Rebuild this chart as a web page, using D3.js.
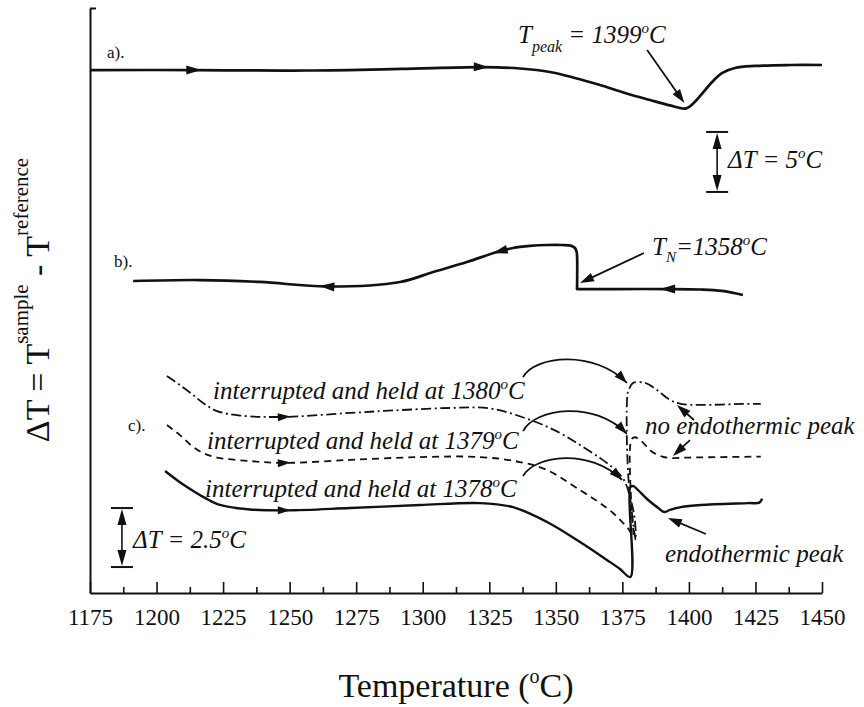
<!DOCTYPE html>
<html>
<head>
<meta charset="utf-8">
<script src="https://cdn.jsdelivr.net/npm/d3@7"></script>
<style>
  body { margin: 0; background: #fff; }
  svg { display: block; }
</style>
</head>
<body>
<svg id="chart" width="864" height="707"></svg>
<script>
// ---- temperature axis ----
const tickValues = [1175, 1200, 1225, 1250, 1275, 1300, 1325, 1350, 1375, 1400, 1425, 1450];
const tickLabels = ["1175", "1200", "1225", "1250", "1275", "1300", "1325", "1350", "1375", "1400", "1425", "1450"];
const minorTicks = [1187.5, 1212.5, 1237.5, 1262.5, 1287.5, 1312.5, 1337.5, 1362.5, 1387.5, 1412.5, 1437.5];

// ---- trace a): heating, stacked ΔT (°C) ----
const tempA = [1175, 1214.4, 1256.5, 1291.5, 1322.3, 1336.5, 1347.8, 1357.2, 1366.6, 1376, 1385.4, 1392.9, 1399, 1401.8, 1405.2, 1408.7, 1412.4, 1417.3, 1424.8, 1438, 1450];
const dtA   = [43.58, 43.58, 43.54, 43.67, 43.83, 43.71, 43.42, 42.92, 42.33, 41.67, 41.08, 40.63, 40.38, 40.83, 41.67, 42.58, 43.33, 43.75, 43.92, 44.0, 44.0];
const arrowsA = [1214, 1322];

// ---- trace b): cooling with nucleation at T_N ----
const tempB = [1191.2, 1216.3, 1238.9, 1264, 1291.5, 1303.9, 1316.6, 1327.9, 1333.9, 1340.3, 1346.7, 1352.5, 1355.6, 1357.2, 1357.8, 1358, 1358, 1358, 1359.2, 1374.1, 1392.1, 1404.2, 1412.4, 1420.3];
const dtB   = [26.0, 26.08, 25.92, 25.54, 25.92, 26.75, 27.58, 28.42, 28.75, 28.92, 29.0, 29.0, 28.95, 28.75, 28.45, 28.0, 25.55, 25.33, 25.33, 25.33, 25.33, 25.29, 25.17, 24.83];
const arrowsB = [1264, 1329, 1392];

// ---- traces c): interrupted heating runs ----
const tempC80 = [1203.9, 1208.8, 1213.3, 1217.5, 1222.7, 1231.4, 1247.5, 1272.7, 1291.5, 1310.2, 1325.3, 1341.4, 1351.6, 1359.1, 1366.6, 1371.5, 1375.6, 1378.2, 1379.7, 1380.0, 1377.2, 1376.9, 1377.4, 1379.0, 1383.5, 1388.0, 1392.9, 1397.0, 1405, 1420, 1427];
const dtC80   = [9.19, 8.81, 8.43, 8.05, 7.71, 7.52, 7.46, 7.63, 7.75, 7.84, 7.82, 7.29, 6.78, 6.27, 5.72, 5.30, 4.79, 3.94, 3.09, 2.25, 5.0, 8.4, 8.6, 8.9, 8.9, 8.6, 8.18, 8.01, 7.97, 8.01, 8.01];

const tempC79 = [1203.9, 1208.8, 1213.3, 1217.5, 1222.7, 1235.1, 1247.5, 1272.7, 1299, 1321.5, 1336.5, 1346.7, 1359.1, 1366.6, 1371.5, 1375.2, 1377.4, 1379, 1378.4, 1378.4, 1379.6, 1382.0, 1386.0, 1390.0, 1393.5, 1400, 1427];
const dtC79   = [7.12, 6.69, 6.23, 5.93, 5.74, 5.59, 5.51, 5.64, 5.76, 5.76, 5.55, 5.21, 4.36, 3.81, 3.39, 2.97, 2.7, 2.4, 3.6, 6.5, 6.6, 6.45, 6.0, 5.78, 5.72, 5.74, 5.78];

const tempC78 = [1203.2, 1208.1, 1212.6, 1218.2, 1223.8, 1235.1, 1249, 1272.7, 1299, 1321.5, 1333.9, 1346.7, 1359.1, 1369.2, 1374.1, 1378, 1378, 1379.1, 1380.9, 1384.7, 1388.5, 1390.7, 1392.9, 1397.0, 1404.5, 1422.3, 1426.5, 1427.5];
const dtC78   = [5.17, 4.75, 4.41, 4.03, 3.73, 3.54, 3.50, 3.60, 3.73, 3.81, 3.64, 3.01, 2.16, 1.40, 1.02, 0.68, 4.49, 4.53, 4.36, 3.94, 3.60, 3.43, 3.52, 3.64, 3.73, 3.81, 3.83, 4.0];
const arrowsC = [1248];

// ---- ΔT scale bars (temperature, from, to) ----
const barA = [1410.6, 33.42, 38.42];   // 5 °C
const barC = [1187.0, 1.1, 3.6];       // 2.5 °C

// ---- annotation pointers ----
const peakArrow = [[1384.3, 45.25], [1398.3, 40.83]];
const nucArrow  = [[1383.1, 28.33], [1359.1, 25.83]];
const noPeakArrows = [[[1401.9, 7.33], [1395.5, 7.97]], [[1400.4, 6.48], [1394.0, 5.81]]];
const endoArrow = [[1406.4, 2.50], [1392.1, 3.18]];
const holdArcs = [
  [[1337.7, 9.15], [1342.2, 10.08], [1364.7, 10.30], [1376.7, 8.90]],
  [[1337.7, 6.86], [1342.2, 7.84], [1364.7, 8.18], [1376.7, 6.74]],
  [[1337.7, 4.96], [1342.2, 5.85], [1362.8, 6.14], [1374.9, 4.79]]
];

// ---------------------------------------------------------------
const ink = "#111";
const serif = "'Liberation Serif','Times New Roman',Times,serif";
const svg = d3.select("#chart");

const x = d3.scaleLinear().domain([1175, 1450]).range([90, 822]);
const yAB = d3.scaleLinear().domain([0, 48.75]).range([593, 8]);   // 12 px per °C
const yC = d3.scaleLinear().domain([0, 2.5]).range([593, 534]);    // 2.5 °C bar

// axes
const gx = svg.append("g").attr("transform", "translate(0,593)")
  .call(d3.axisBottom(x).tickValues(tickValues).tickFormat((d, i) => tickLabels[i])
    .tickSizeInner(-11).tickSizeOuter(0).tickPadding(0));
gx.select(".domain").attr("stroke", ink).attr("stroke-width", 2);
gx.selectAll(".tick line").attr("stroke", ink).attr("stroke-width", 1.6);
gx.selectAll(".tick text").attr("y", 32).attr("dy", 0).attr("fill", ink)
  .style("font-family", serif).style("font-size", "23px");

const gm = svg.append("g").attr("transform", "translate(0,593)")
  .call(d3.axisBottom(x).tickValues(minorTicks).tickFormat("").tickSizeInner(-6).tickSizeOuter(0));
gm.select(".domain").remove();
gm.selectAll(".tick line").attr("stroke", ink).attr("stroke-width", 1.6);

const gy = svg.append("g").attr("transform", "translate(90,0)")
  .call(d3.axisRight(yAB).tickValues([48.75]).tickFormat("").tickSizeInner(6).tickSizeOuter(0));
gy.select(".domain").attr("stroke", ink).attr("stroke-width", 2);
gy.selectAll(".tick line").attr("stroke", ink).attr("stroke-width", 2);

// helpers
function richText(px, py, parts, opts = {}) {
  const t = svg.append("text").attr("x", px).attr("y", py).attr("fill", ink)
    .style("font-family", serif).style("font-style", opts.italic ? "italic" : "normal")
    .style("font-size", (opts.size || 25) + "px");
  if (opts.anchor) t.attr("text-anchor", opts.anchor);
  if (opts.transform) t.attr("transform", opts.transform).attr("x", 0).attr("y", 0);
  parts.forEach(p => {
    const s = t.append("tspan").text(p.t);
    if (p.size) s.style("font-size", p.size + "px");
    if (p.dy) s.attr("dy", p.dy);
  });
  return t;
}

function head(px, py, ang, len, hw) {
  const c = Math.cos(ang), s = Math.sin(ang);
  const bx = px - c * len, by = py - s * len;
  svg.append("path")
    .attr("d", `M${px},${py}L${bx - s * hw},${by + c * hw}L${bx + s * hw},${by - c * hw}Z`)
    .attr("fill", ink);
}

function valueAt(Ts, Vs, T) {
  for (let i = 0; i < Ts.length - 1; i++) {
    if (Ts[i] !== Ts[i + 1] && (Ts[i] - T) * (Ts[i + 1] - T) <= 0) {
      return Vs[i] + (Vs[i + 1] - Vs[i]) * (T - Ts[i]) / (Ts[i + 1] - Ts[i]);
    }
  }
  return Vs[Vs.length - 1];
}

function trace(Ts, Vs, y, width, dash) {
  const line = d3.line().x(d => x(d[0])).y(d => y(d[1])).curve(d3.curveCatmullRom.alpha(0.5));
  const p = svg.append("path").datum(Ts.map((t, i) => [t, Vs[i]]))
    .attr("d", line).attr("fill", "none").attr("stroke", ink)
    .attr("stroke-width", width).attr("stroke-linejoin", "round");
  if (dash) p.attr("stroke-dasharray", dash);
}

function flowArrows(Ts, Vs, y, temps, dir, len, hw) {
  temps.forEach(T => {
    const x1 = x(T), y1 = y(valueAt(Ts, Vs, T));
    const T2 = T + dir * 1.5;
    const x2 = x(T2), y2 = y(valueAt(Ts, Vs, T2));
    const ang = Math.atan2(y2 - y1, x2 - x1);
    head(x1 + Math.cos(ang) * len / 2, y1 + Math.sin(ang) * len / 2, ang, len, hw);
  });
}

function pointer(pts, y, width = 1.8) {
  const [a, b] = pts;
  const x1 = x(a[0]), y1 = y(a[1]), x2 = x(b[0]), y2 = y(b[1]);
  const ang = Math.atan2(y2 - y1, x2 - x1);
  svg.append("line").attr("x1", x1).attr("y1", y1)
    .attr("x2", x2 - Math.cos(ang) * 8).attr("y2", y2 - Math.sin(ang) * 8)
    .attr("stroke", ink).attr("stroke-width", width);
  head(x2, y2, ang, 14, 4.5);
}

function arc(pts, y) {
  const P = pts.map(p => [x(p[0]), y(p[1])]);
  svg.append("path")
    .attr("d", `M${P[0]}C${P[1]} ${P[2]} ${P[3]}`)
    .attr("fill", "none").attr("stroke", ink).attr("stroke-width", 1.8);
  const ang = Math.atan2(P[3][1] - P[2][1], P[3][0] - P[2][0]);
  head(P[3][0], P[3][1], ang, 13, 4.5);
}

function scaleBar(bar, y) {
  const bx = x(bar[0]), top = y(bar[2]), bot = y(bar[1]);
  svg.append("line").attr("x1", bx).attr("x2", bx).attr("y1", top + 10).attr("y2", bot - 10)
    .attr("stroke", ink).attr("stroke-width", 1.6);
  [top, bot].forEach(v => svg.append("line").attr("x1", bx - 11).attr("x2", bx + 11)
    .attr("y1", v).attr("y2", v).attr("stroke", ink).attr("stroke-width", 2));
  head(bx, top + 1, -Math.PI / 2, 16, 4.5);
  head(bx, bot - 1, Math.PI / 2, 16, 4.5);
}

// traces
trace(tempA, dtA, yAB, 2.7);
flowArrows(tempA, dtA, yAB, arrowsA, 1, 15, 4.5);

trace(tempB, dtB, yAB, 2.7);
flowArrows(tempB, dtB, yAB, arrowsB, -1, 15, 4.5);

trace(tempC80, dtC80, yC, 1.8, "10,3.5,2,3.5");
trace(tempC79, dtC79, yC, 1.8, "7,5");
trace(tempC78, dtC78, yC, 2.4);
flowArrows(tempC80, dtC80, yC, arrowsC, 1, 13, 4);
flowArrows(tempC79, dtC79, yC, arrowsC, 1, 13, 4);
flowArrows(tempC78, dtC78, yC, arrowsC, 1, 13, 4);

// scale bars
scaleBar(barA, yAB);
scaleBar(barC, yC);

// pointers
pointer(peakArrow, yAB);
pointer(nucArrow, yAB);
noPeakArrows.forEach(a => pointer(a, yC));
pointer(endoArrow, yC);
holdArcs.forEach(a => arc(a, yC));

// panel tags
richText(107, 58, [{ t: "a)." }], { size: 17 });
richText(114, 267, [{ t: "b)." }], { size: 17 });
richText(128, 431, [{ t: "c)." }], { size: 17 });

// annotations
const deg = (after) => [{ t: "o", size: 15, dy: -10 }, { t: after, size: 25, dy: 10 }];
richText(518, 43, [{ t: "T" }, { t: "peak", size: 16, dy: 9 }, { t: " = 1399", size: 25, dy: -9 }, ...deg("C")], { italic: true });
richText(728, 168, [{ t: "ΔT = 5" }, ...deg("C")], { italic: true });
richText(652, 255, [{ t: "T" }, { t: "N", size: 15, dy: 7 }, { t: "=1358", size: 25, dy: -7 }, ...deg("C")], { italic: true });
richText(213, 399, [{ t: "interrupted and held at 1380" }, ...deg("C")], { italic: true });
richText(207, 449, [{ t: "interrupted and held at 1379" }, ...deg("C")], { italic: true });
richText(205, 497, [{ t: "interrupted and held at 1378" }, ...deg("C")], { italic: true });
richText(645, 434, [{ t: "no endothermic peak" }], { italic: true });
richText(665, 562, [{ t: "endothermic peak" }], { italic: true });
richText(133, 548, [{ t: "ΔT = 2.5" }, ...deg("C")], { italic: true });

// axis titles
richText(456, 697, [{ t: "Temperature (" }, { t: "o", size: 20, dy: -14 }, { t: "C)", size: 34, dy: 14 }],
  { size: 34, anchor: "middle" });
richText(0, 0, [
  { t: "ΔT = T" },
  { t: "sample", size: 21, dy: -21 },
  { t: " - T", size: 34, dy: 21 },
  { t: "reference", size: 21, dy: -21 }
], { size: 34, anchor: "middle", transform: "translate(49,300) rotate(-90)" });
</script>
</body>
</html>
